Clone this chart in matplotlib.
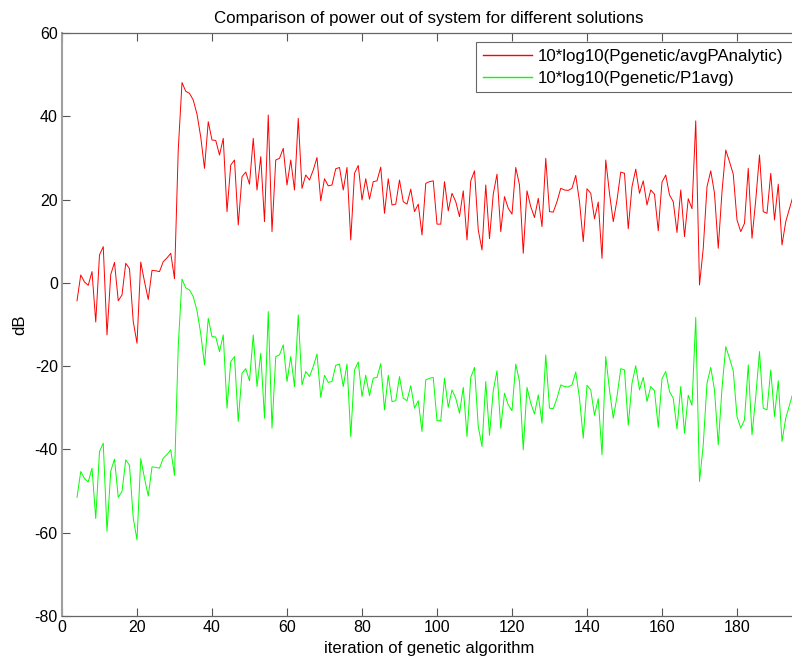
import matplotlib
matplotlib.use("Agg")
import matplotlib.pyplot as plt

plt.rcParams['font.family'] = ['Liberation Sans', 'DejaVu Sans']
plt.rcParams['axes.unicode_minus'] = False

# iteration numbers of the genetic algorithm
iterations = list(range(4, 196))

# 10*log10(Pgenetic/avgPAnalytic), dB
db_analytic = [
    -4.3, 1.9, 0.2, -0.6, 2.7, -9.4, 6.7, 8.7, -12.5, 2.0,
    4.9, -4.3, -2.9, 4.7, 3.4, -9.3, -14.5, 5.0, 0.3, -4.0,
    3.0, 2.9, 2.7, 5.1, 6.0, 7.1, 1.0, 32.0, 48.1, 46.0,
    45.5, 43.9, 40.5, 35.0, 27.5, 38.7, 34.3, 34.2, 30.7, 34.7,
    17.1, 28.3, 29.5, 13.9, 25.5, 26.6, 23.7, 34.7, 22.3, 30.3,
    14.7, 40.3, 12.3, 29.5, 29.9, 32.3, 23.5, 29.5, 22.3, 39.5,
    22.7, 25.9, 24.7, 27.1, 30.1, 19.7, 25.0, 23.3, 23.5, 27.4,
    27.7, 22.3, 27.7, 10.3, 26.3, 28.2, 19.9, 25.0, 20.1, 24.3,
    24.5, 27.8, 16.7, 25.0, 18.7, 18.9, 24.7, 19.5, 18.9, 22.5,
    17.1, 18.9, 11.5, 23.9, 24.3, 24.5, 14.1, 14.1, 24.3, 17.3,
    21.5, 19.5, 15.9, 22.1, 10.3, 24.5, 26.9, 12.7, 7.9, 23.5,
    10.6, 21.3, 26.1, 12.3, 20.7, 17.9, 16.5, 27.7, 23.5, 7.1,
    22.1, 18.3, 15.7, 20.3, 13.5, 29.9, 17.1, 17.0, 19.5, 22.7,
    22.3, 22.2, 22.7, 25.8, 19.5, 9.9, 22.6, 21.5, 15.4, 19.4,
    5.9, 29.5, 21.5, 14.7, 19.9, 26.6, 26.3, 13.0, 23.1, 27.3,
    21.5, 24.5, 18.7, 22.3, 21.3, 12.5, 24.2, 25.9, 21.1, 19.5,
    12.1, 22.3, 11.1, 20.2, 17.8, 38.9, -0.5, 8.3, 23.1, 26.9,
    21.5, 8.3, 21.9, 31.9, 29.1, 26.1, 15.1, 12.3, 14.3, 27.5,
    10.7, 19.9, 30.7, 17.1, 16.7, 26.3, 15.1, 23.7, 9.1, 14.7,
    17.9, 21.0,
]

# 10*log10(Pgenetic/P1avg), dB
db_p1avg = [
    -51.5, -45.3, -47.0, -47.8, -44.5, -56.6, -40.5, -38.5, -59.7, -45.2,
    -42.3, -51.5, -50.1, -42.5, -43.8, -56.5, -61.7, -42.2, -46.9, -51.2,
    -44.2, -44.3, -44.5, -42.1, -41.2, -40.1, -46.2, -15.2, 0.9, -1.2,
    -1.7, -3.3, -6.7, -12.2, -19.7, -8.5, -12.9, -13.0, -16.5, -12.5,
    -30.1, -18.9, -17.7, -33.3, -21.7, -20.6, -23.5, -12.5, -24.9, -16.9,
    -32.5, -6.9, -34.9, -17.7, -17.3, -14.9, -23.7, -17.7, -24.9, -7.7,
    -24.5, -21.3, -22.5, -20.1, -17.1, -27.5, -22.2, -23.9, -23.7, -19.8,
    -19.5, -24.9, -19.5, -36.9, -20.9, -19.0, -27.3, -22.2, -27.1, -22.9,
    -22.7, -19.4, -30.5, -22.2, -28.5, -28.3, -22.5, -27.7, -28.3, -24.7,
    -30.1, -28.3, -35.7, -23.3, -22.9, -22.7, -33.1, -33.1, -22.9, -29.9,
    -25.7, -27.7, -31.3, -25.1, -36.9, -22.7, -20.3, -34.5, -39.3, -23.7,
    -36.6, -25.9, -21.1, -34.9, -26.5, -29.3, -30.7, -19.5, -23.7, -40.1,
    -25.1, -28.9, -31.5, -26.9, -33.7, -17.3, -30.1, -30.2, -27.7, -24.5,
    -24.9, -25.0, -24.5, -21.4, -27.7, -37.3, -24.6, -25.7, -31.8, -27.8,
    -41.3, -17.7, -25.7, -32.5, -27.3, -20.6, -20.9, -34.2, -24.1, -19.9,
    -25.7, -22.7, -28.5, -24.9, -25.9, -34.7, -23.0, -21.3, -26.1, -27.7,
    -35.1, -24.9, -36.1, -27.0, -29.4, -8.3, -47.7, -38.9, -24.1, -20.3,
    -25.7, -38.9, -25.3, -15.3, -18.1, -21.1, -32.1, -34.9, -32.9, -19.7,
    -36.5, -27.3, -16.5, -30.1, -30.5, -20.9, -32.1, -23.5, -38.1, -32.5,
    -29.3, -26.2,
]

fig = plt.figure(figsize=(7.92, 6.68), dpi=100)
W, H = 792, 668
AX_W = 742
ax = fig.add_axes([62 / W, 52 / H, AX_W / W, 583 / H])

ax.plot(iterations, db_analytic, color='#ff0000', lw=0.7,
        label='10*log10(Pgenetic/avgPAnalytic)')
ax.plot(iterations, db_p1avg, color='#00ff00', lw=0.7,
        label='10*log10(Pgenetic/P1avg)')

ax.set_xlim(0, AX_W / 3.75)
ax.set_ylim(-80, 60)
ax.set_xticks(range(0, 181, 20))
ax.set_yticks(range(-80, 61, 20))
ax.tick_params(direction='in', length=6, width=0.8, color='#555555',
               labelsize=11.5, top=True, right=True, pad=3)
for s in ax.spines.values():
    s.set_color('#666666')
    s.set_linewidth(0.9)
ax.spines['left'].set_color('#a0a0a0')
ax.spines['left'].set_linewidth(1.5)

ax.set_title('Comparison of power out of system for different solutions',
             fontsize=12.2, pad=7, x=(429 - 62) / AX_W)
ax.set_xlabel('iteration of genetic algorithm', fontsize=12, labelpad=4,
              x=(429 - 62) / AX_W)
ax.set_ylabel('dB', fontsize=12, labelpad=5)

# legend box from x=476 px to past the right edge, top at y=42 px
lx = (476 - 62) / AX_W
lw_ax = (830 - 476) / AX_W
ly = (616 - 42) / 583
leg = ax.legend(loc='upper left', bbox_to_anchor=(lx, ly - 0.2, lw_ax, 0.2),
                mode='expand', fontsize=12.2,
                fancybox=False, framealpha=1, edgecolor='#666666',
                borderaxespad=0, handlelength=2.9, handletextpad=0.35,
                borderpad=0.4, labelspacing=0.4)
leg.get_frame().set_linewidth(0.8)
for line in leg.get_lines():
    line.set_linewidth(1.0)

fig.savefig('out.png', dpi=100)
